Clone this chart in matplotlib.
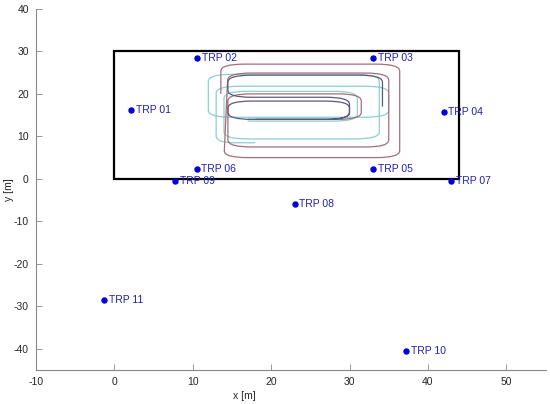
import numpy as np
import matplotlib
matplotlib.use('Agg')
import matplotlib.pyplot as plt
from matplotlib.path import Path
from matplotlib.patches import PathPatch, Rectangle

plt.rcParams['font.family'] = ['Liberation Sans', 'DejaVu Sans']
plt.rcParams['axes.unicode_minus'] = False

# TRP positions [m]
trp_names = ['TRP 01', 'TRP 02', 'TRP 03', 'TRP 04', 'TRP 05', 'TRP 06',
             'TRP 07', 'TRP 08', 'TRP 09', 'TRP 10', 'TRP 11']
trp_x = [2.2, 10.6, 33.0, 42.0, 33.0, 10.5, 43.0, 23.0, 7.8, 37.2, -1.3]
trp_y = [16.2, 28.4, 28.4, 15.7, 2.3, 2.3, -0.5, -5.9, -0.5, -40.6, -28.6]

# room outline [m]
room_x = [0, 44]
room_y = [0, 30]

# walked trajectories (waypoints, corners get rounded)
red_x = [17.0, 31.5, 31.5, 14.5, 14.5, 35.0, 35.0, 14.5, 14.0, 36.4, 36.4, 13.6, 13.6]
red_y = [14.0, 14.0, 20.0, 20.0, 7.5, 7.5, 24.9, 24.9, 5.0, 5.0, 27.0, 27.0, 20.0]
dark_x = [18.0, 30.0, 30.0, 14.5, 14.5, 30.0, 30.0, 14.5, 14.5, 34.2, 34.2]
dark_y = [14.0, 14.0, 18.3, 18.3, 14.0, 14.0, 19.2, 19.2, 24.4, 24.4, 17.0]
cyan_x = [17.0, 31.0, 31.0, 14.0, 14.0, 33.8, 33.8, 12.0, 12.0, 35.0, 35.0, 13.0, 13.0, 18.0]
cyan_y = [13.6, 13.6, 20.6, 20.6, 9.4, 9.4, 24.6, 24.6, 14.5, 14.5, 21.8, 21.8, 8.5, 8.5]


def rounded_path(xs, ys, r=3.0, yscale=1.83):
    pts = np.column_stack([xs, ys]).astype(float)
    verts = [pts[0]]
    codes = [Path.MOVETO]
    for i in range(1, len(pts) - 1):
        p0, p1, p2 = pts[i - 1], pts[i], pts[i + 1]
        d1 = p1 - p0
        d2 = p2 - p1
        l1 = np.hypot(d1[0], d1[1] * yscale)
        l2 = np.hypot(d2[0], d2[1] * yscale)
        f1 = min(0.45, r / l1)
        f2 = min(0.45, r / l2)
        a = p1 - d1 * f1
        b = p1 + d2 * f2
        verts += [a, p1, b]
        codes += [Path.LINETO, Path.CURVE3, Path.CURVE3]
    verts.append(pts[-1])
    codes.append(Path.LINETO)
    return Path(verts, codes)


fig = plt.figure(figsize=(5.5, 4.04), dpi=100)
ax = fig.add_axes([0.065, 0.084, 0.927, 0.894])

ax.add_patch(Rectangle((room_x[0], room_y[0]), room_x[1] - room_x[0], room_y[1] - room_y[0],
                       fill=False, edgecolor='black', linewidth=1.6, zorder=3))

for xs, ys, c in [(cyan_x, cyan_y, '#8ccfd2'),
                  (red_x, red_y, '#a56d79'),
                  (dark_x, dark_y, '#5a5a80')]:
    ax.add_patch(PathPatch(rounded_path(xs, ys), fill=False, edgecolor=c, linewidth=0.9, zorder=2))

ax.plot(trp_x, trp_y, 'o', color='#0000dd', markersize=3.6, zorder=4)
for n, x, y in zip(trp_names, trp_x, trp_y):
    ax.text(x + 0.6, y, n, color='#2020b0', fontsize=7.5, va='center', ha='left', zorder=4)

ax.set_xlim(-10, 55)
ax.set_ylim(-45, 40)
ax.set_xticks(np.arange(-10, 51, 10))
ax.set_yticks(np.arange(-40, 41, 10))
ax.set_xlabel('x [m]', fontsize=7.5, color='#262626')
ax.set_ylabel('y [m]', fontsize=7.5, color='#262626')
ax.xaxis.set_label_coords(0.41, -0.058)
ax.yaxis.set_label_coords(-0.043, 0.5)

for s in ['top', 'right']:
    ax.spines[s].set_visible(False)
for s in ['left', 'bottom']:
    ax.spines[s].set_color('#888888')
    ax.spines[s].set_linewidth(0.8)
ax.tick_params(direction='in', length=4, width=0.6, color='#888888',
               labelsize=7.5, labelcolor='#262626', pad=5)

fig.savefig('out.png', dpi=100)
